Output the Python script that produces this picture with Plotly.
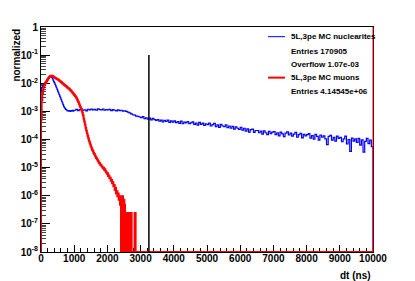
import plotly.graph_objects as go

# ---------------- data ----------------
nuc_label = "5L,3pe MC nuclearites"
nuc_entries = "Entries 170905"
nuc_overflow = "Overflow 1.07e-03"
muon_label = "5L,3pe MC muons"
muon_entries_text = "Entries 4.14545e+06"
muon_entries = 4.14545e6

# nuclearites: 20 ns bins from 0 to 1000 (log10 of normalized content)
nuc_fine_edges_start = 0
nuc_fine_width = 20
nuc_fine_log10 = [
    -2.25, -2.15, -2.11, -2.08, -2.05, -2.01, -1.98, -1.95, -1.92, -1.89,
    -1.86, -1.83, -1.80, -1.77, -1.74, -1.75, -1.79, -1.84, -1.89, -1.94,
    -1.99, -2.04, -2.10, -2.16, -2.22, -2.28, -2.34, -2.40, -2.46, -2.52,
    -2.58, -2.64, -2.70, -2.76, -2.82, -2.87, -2.90, -2.93, -2.95, -2.97,
    -2.98, -2.97, -2.99, -2.98, -3.00, -2.97, -2.98, -2.96, -2.99, -2.97,
]
# nuclearites: 50 ns bins from 1000 to 10000
nuc_coarse_start = 1000
nuc_coarse_width = 50
nuc_coarse_log10 = [
    -2.96, -2.93, -2.97, -2.94, -2.92, -2.96, -2.95, -2.98, -2.93, -2.95,
    -2.92, -2.95, -2.93, -2.96, -2.91, -2.94, -2.95, -2.92, -2.96, -2.94,
    -2.95, -2.93, -2.97, -2.94, -2.96, -2.98, -2.95, -2.97, -2.96, -2.99,
    -2.98, -3.00, -3.03, -3.05, -3.09, -3.12, -3.13, -3.17, -3.18, -3.20,
    -3.22, -3.19, -3.26, -3.23, -3.28, -3.24, -3.30, -3.25, -3.29, -3.32,
    -3.29, -3.35, -3.31, -3.37, -3.32, -3.36, -3.31, -3.39, -3.34, -3.38,
    -3.34, -3.40, -3.36, -3.43, -3.35, -3.44, -3.38, -3.41, -3.36, -3.44,
    -3.41, -3.37, -3.46, -3.42, -3.49, -3.39, -3.46, -3.42, -3.50, -3.44,
    -3.47, -3.42, -3.52, -3.47, -3.43, -3.54, -3.48, -3.57, -3.46, -3.52,
    -3.54, -3.48, -3.58, -3.52, -3.60, -3.53, -3.63, -3.55, -3.60, -3.64,
    -3.57, -3.67, -3.60, -3.70, -3.62, -3.74, -3.65, -3.63, -3.75, -3.68,
    -3.68, -3.76, -3.70, -3.81, -3.69, -3.76, -3.83, -3.71, -3.79, -3.74,
    -3.72, -3.83, -3.76, -3.87, -3.74, -3.80, -3.90, -3.77, -3.73, -3.84,
    -3.77, -3.88, -3.81, -3.75, -3.92, -3.83, -3.78, -3.94, -3.82, -3.87,
    -3.83, -3.79, -3.95, -3.86, -3.99, -3.82, -3.89, -4.02, -3.84, -3.92,
    -3.87, -3.98, -4.18, -3.89, -3.85, -4.02, -3.92, -4.06, -3.88, -3.96,
    -3.92, -4.08, -3.98, -3.88, -4.16, -4.00, -4.42, -3.95, -4.06, -3.98,
    -4.10, -3.96, -4.20, -4.01, -4.45, -4.07, -3.96, -4.15, -4.02, -4.25,
]

# muons: 20 ns bins from 0 to 2400 (log10 of normalized content)
muon_fine_start = 0
muon_fine_width = 20
muon_fine_log10 = [
    -3.30, -2.60, -2.35, -2.22, -2.12, -2.05, -1.99, -1.96, -1.93, -1.89,
    -1.85, -1.81, -1.78, -1.76, -1.74, -1.73, -1.73, -1.74, -1.76, -1.78,
    -1.80, -1.81, -1.82, -1.84, -1.85, -1.87, -1.88, -1.90, -1.92, -1.94,
    -1.96, -1.98, -2.00, -2.02, -2.04, -2.06, -2.08, -2.10, -2.12, -2.14,
    -2.16, -2.18, -2.20, -2.22, -2.25, -2.27, -2.30, -2.33, -2.36, -2.39,
    -2.42, -2.45, -2.48, -2.52, -2.57, -2.62, -2.67, -2.73, -2.79, -2.85,
    -2.91, -2.97, -3.04, -3.14, -3.25, -3.36, -3.47, -3.58, -3.68, -3.78,
    -3.87, -3.96, -4.04, -4.11, -4.18, -4.25, -4.31, -4.37, -4.42, -4.48,
    -4.52, -4.57, -4.61, -4.66, -4.69, -4.74, -4.77, -4.83, -4.84, -4.90,
    -4.90, -4.95, -4.97, -5.02, -5.00, -5.08, -5.06, -5.13, -5.16, -5.22,
    -5.20, -5.30, -5.28, -5.38, -5.36, -5.47, -5.44, -5.56, -5.52, -5.66,
    -5.62, -5.80, -5.72, -5.92, -5.84, -6.02, -5.92, -6.14, -6.02, -6.32,
]
# muons: entries per 10 ns bin from 2400 to 2900 (zero afterwards up to 10000)
muon_tail_start = 2400
muon_tail_width = 10
muon_tail_counts = [
    4, 0, 3, 4, 0, 2, 4, 0, 3, 1,
    3, 0, 2, 1, 0, 1, 1, 0, 1, 0,
    1, 0, 1, 1, 0, 1, 0, 1, 0, 1,
    1, 0, 1, 0, 0, 0, 0, 0, 0, 0,
    0, 0, 1, 0, 1, 0, 0, 0, 0, 0,
]
muon_tail_end = 2900

# cut line
cut_x = 3250
cut_top = 0.1

x_min, x_max = 0, 10000
y_floor = 1e-8

# ---------------- build step outlines ----------------
def step_outline(edges, vals):
    xs = [edges[0]]
    ys = [y_floor]
    for e, v in zip(edges, vals):
        xs.append(e)
        ys.append(v if v > 0 else y_floor)
    xs.append(x_max)
    ys.append(y_floor)
    return xs, ys

nuc_edges = [nuc_fine_edges_start + i * nuc_fine_width for i in range(len(nuc_fine_log10))] + \
            [nuc_coarse_start + i * nuc_coarse_width for i in range(len(nuc_coarse_log10))]
nuc_vals = [10 ** v for v in nuc_fine_log10 + nuc_coarse_log10]

muon_edges = [muon_fine_start + i * muon_fine_width for i in range(len(muon_fine_log10))] + \
             [muon_tail_start + i * muon_tail_width for i in range(len(muon_tail_counts))] + \
             [muon_tail_end]
muon_vals = [10 ** v for v in muon_fine_log10] + \
            [c / muon_entries for c in muon_tail_counts] + [0]

nx, ny = step_outline(nuc_edges, nuc_vals)
mx, my = step_outline(muon_edges, muon_vals)

FONT = "Liberation Sans"

fig = go.Figure()
fig.add_trace(go.Scatter(x=nx, y=ny, mode="lines", line=dict(color="#0000ff", width=1.2, shape="hv"),
                         name=nuc_label, showlegend=False))
fig.add_trace(go.Scatter(x=mx, y=my, mode="lines", line=dict(color="#ff0000", width=2, shape="hv"),
                         name=muon_label, showlegend=False))
fig.add_trace(go.Scatter(x=[cut_x, cut_x], y=[y_floor, cut_top], mode="lines",
                         line=dict(color="black", width=1.5), showlegend=False))

exps = list(range(-8, 1))
ytickvals = [10 ** e for e in exps]
yticktext = ["1" if e == 0 else "10<sup>%d</sup>" % e for e in exps]
yminor = [k * 10 ** e for e in range(-8, 0) for k in range(2, 10)]

fig.update_xaxes(range=[x_min, x_max], tickvals=list(range(0, 10001, 1000)),
                 ticktext=[str(v) for v in range(0, 10001, 1000)],
                 ticks="inside", ticklen=7, tickcolor="black", tickwidth=1,
                 minor=dict(ticks="inside", ticklen=4, dtick=200, tickcolor="black", showgrid=False),
                 showline=True, linecolor="black", linewidth=1, mirror=True,
                 showgrid=False, zeroline=False, layer="below traces", automargin=False,
                 ticklabelstandoff=-3,
                 tickfont=dict(family=FONT, size=10, color="black", weight="bold"))
fig.update_yaxes(type="log", range=[-8, 0], tickmode="array", tickvals=ytickvals, ticktext=yticktext,
                 ticks="inside", ticklen=9, tickcolor="black", tickwidth=1,
                 minor=dict(ticks="inside", ticklen=5, tickvals=yminor, tickcolor="#444", showgrid=False),
                 showline=True, linecolor="black", linewidth=1, mirror=True,
                 showgrid=False, zeroline=False, layer="below traces", automargin=False,
                 tickfont=dict(family=FONT, size=10, color="black", weight="bold"))

# legend box (TPaveStats-like)
leg_x = 0.746
leg_items = [(nuc_label, 0.957), (nuc_entries, 0.890), (nuc_overflow, 0.834),
             (muon_label, 0.775), (muon_entries_text, 0.712)]
annotations = [dict(text=t, x=leg_x, y=y, xref="paper", yref="paper", xanchor="left", yanchor="middle",
                    showarrow=False, font=dict(family=FONT, size=8, color="black", weight="bold"))
               for t, y in leg_items]
annotations.append(dict(text="normalized", x=-0.075, y=1.0, xref="paper", yref="paper", textangle=-90,
                        xanchor="center", yanchor="top", showarrow=False,
                        font=dict(family=FONT, size=10, color="black", weight="bold")))
annotations.append(dict(text="dt (ns)", x=1.0, y=-0.072, xref="paper", yref="paper",
                        xanchor="right", yanchor="top", showarrow=False,
                        font=dict(family=FONT, size=10, color="black", weight="bold")))

shapes = [
    dict(type="line", xref="paper", yref="paper", x0=0.684, x1=0.735, y0=0.957, y1=0.957,
         line=dict(color="#0000ff", width=1)),
    dict(type="line", xref="paper", yref="paper", x0=0.684, x1=0.735, y0=0.775, y1=0.775,
         line=dict(color="#ff0000", width=2)),
    dict(type="line", xref="paper", yref="paper", x0=1.0, x1=1.0, y0=0, y1=1,
         line=dict(color="#ff0000", width=1)),
]

# the page body adds an 8 px margin, so the figure is sized to fit the 415x281 window
fig.update_layout(width=407, height=273, autosize=False,
                  margin=dict(l=33, r=42, t=19, b=29),
                  paper_bgcolor="white", plot_bgcolor="white",
                  annotations=annotations, shapes=shapes, showlegend=False)

fig.write_html("out.html")
